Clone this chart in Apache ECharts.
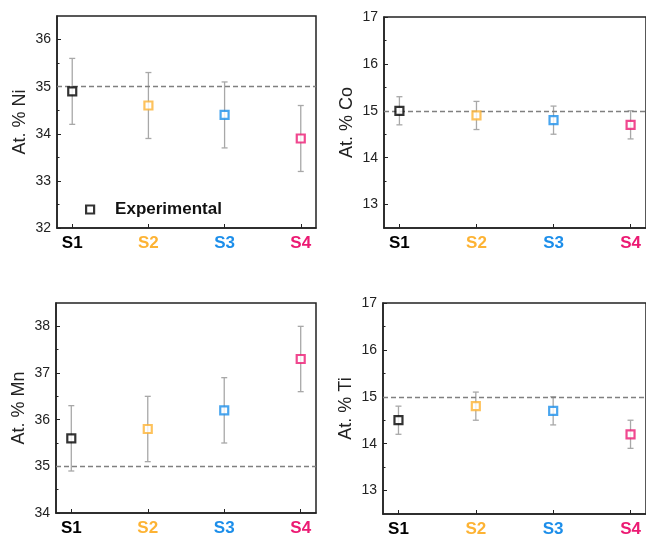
<!DOCTYPE html>
<html>
<head>
<meta charset="utf-8">
<script src="https://cdn.jsdelivr.net/npm/echarts@6/dist/echarts.min.js"></script>
<style>html,body{margin:0;padding:0;background:#fff}#c{width:646px;height:539px}</style>
</head>
<body>
<div id="c"></div>
<script>
// ---- data ----
const categories = ['S1', 'S2', 'S3', 'S4'];
const niValues = [34.9, 34.6, 34.4, 33.9];
const niErr = [0.7, 0.7, 0.7, 0.7];
const coValues = [15.0, 14.9, 14.8, 14.7];
const coErr = [0.3, 0.3, 0.3, 0.3];
const mnValues = [35.6, 35.8, 36.2, 37.3];
const mnErr = [0.7, 0.7, 0.7, 0.7];
const tiValues = [14.5, 14.8, 14.7, 14.2];
const tiErr = [0.3, 0.3, 0.3, 0.3];
const nominal = [35, 15, 35, 15];
const niTicks = [32, 33, 34, 35, 36];
const coTicks = [13, 14, 15, 16, 17];
const mnTicks = [34, 35, 36, 37, 38];
const tiTicks = [13, 14, 15, 16, 17];
const niMinor = [32.5, 33.5, 34.5, 35.5];
const coMinor = [13.5, 14.5, 15.5, 16.5];
const mnMinor = [34.5, 35.5, 36.5, 37.5];
const tiMinor = [13.5, 14.5, 15.5, 16.5];
const yNames = ['At. % Ni', 'At. % Co', 'At. % Mn', 'At. % Ti'];
const yRanges = [[32, 36.5], [12.5, 17], [34, 38.5], [12.5, 17]];
const legendName = 'Experimental';

// ---- styles ----
const catColors = ['#000000', '#FDB334', '#1C8EEA', '#EC1A73'];
const FONT = 'Liberation Sans, Arial, sans-serif';
const frame = '#222';

const panels = [
  {vals: niValues, err: niErr, ticks: niTicks, minor: niMinor},
  {vals: coValues, err: coErr, ticks: coTicks, minor: coMinor},
  {vals: mnValues, err: mnErr, ticks: mnTicks, minor: mnMinor},
  {vals: tiValues, err: tiErr, ticks: tiTicks, minor: tiMinor}
];

const grids = [
  {left: 57, top: 16, width: 259, height: 212},
  {left: 384, top: 17, width: 262, height: 211},
  {left: 56, top: 303, width: 260, height: 210},
  {left: 383, top: 303, width: 263, height: 211}
];

const rich = {};
categories.forEach((c, i) => {
  rich['c' + i] = {color: catColors[i], fontWeight: 'bold', fontSize: 17, fontFamily: FONT};
});

const option = {
  animation: false,
  backgroundColor: '#fff',
  grid: grids.map(g => Object.assign({show: true, borderColor: frame, borderWidth: 1.5, backgroundColor: 'transparent'}, g)),
  xAxis: [],
  yAxis: [],
  series: [],
  legend: {
    data: [{name: legendName, icon: 'rect', itemStyle: {color: '#fff', borderColor: '#000', borderWidth: 2.2}}],
    left: 80, top: 196,
    itemWidth: 8, itemHeight: 8,
    textStyle: {fontFamily: FONT, fontSize: 17, fontWeight: 'bold', color: '#111', padding: [0, 0, 0, 16]}
  }
};

panels.forEach((p, gi) => {
  option.xAxis.push({
    type: 'value', gridIndex: gi, min: 0.8, max: 4.2,
    splitLine: {show: false},
    axisLine: {show: true, onZero: false, lineStyle: {color: frame, width: 1.5}},
    axisTick: {show: true, inside: true, length: 4, customValues: categories.map((c, i) => i + 1), lineStyle: {color: frame, width: 1}},
    axisLabel: {
      customValues: categories.map((c, i) => i + 1), margin: 7,
      formatter: v => {
        const i = Math.round(v) - 1;
        return '{c' + i + '|' + categories[i] + '}';
      },
      rich: rich
    }
  });
  option.yAxis.push({
    type: 'value', gridIndex: gi, position: 'left', min: yRanges[gi][0], max: yRanges[gi][1],
    name: yNames[gi], nameLocation: 'middle', nameGap: 28,
    nameTextStyle: {fontFamily: FONT, fontSize: 18, color: '#222'},
    splitLine: {show: false},
    axisLine: {show: true, lineStyle: {color: frame, width: 1.5}},
    axisTick: {show: true, inside: true, length: 4, customValues: p.ticks, lineStyle: {color: frame, width: 1}},
    axisLabel: {customValues: p.ticks, margin: 6, fontFamily: FONT, fontSize: 14, color: '#222'}
  });
  // minor tick axis
  option.yAxis.push({
    type: 'value', gridIndex: gi, position: 'left', offset: 0, min: yRanges[gi][0], max: yRanges[gi][1],
    splitLine: {show: false},
    axisLine: {show: false},
    axisTick: {show: true, inside: true, length: 2.5, customValues: p.minor, lineStyle: {color: frame, width: 1}},
    axisLabel: {show: false}
  });
  const yIdx = gi * 2;
  // error bars
  option.series.push({
    type: 'custom', xAxisIndex: gi, yAxisIndex: yIdx, z: 2,
    data: p.vals.map((v, i) => [i + 1, v - p.err[i], v + p.err[i]]),
    renderItem: (params, api) => {
      const lo = api.coord([api.value(0), api.value(1)]);
      const hi = api.coord([api.value(0), api.value(2)]);
      const hw = 3;
      const st = {stroke: '#a8a8a8', lineWidth: 1.3};
      return {type: 'group', children: [
        {type: 'line', shape: {x1: lo[0], y1: lo[1], x2: hi[0], y2: hi[1]}, style: st},
        {type: 'line', shape: {x1: lo[0] - hw, y1: lo[1], x2: lo[0] + hw, y2: lo[1]}, style: st},
        {type: 'line', shape: {x1: hi[0] - hw, y1: hi[1], x2: hi[0] + hw, y2: hi[1]}, style: st}
      ]};
    },
    silent: true
  });
  // points
  option.series.push({
    type: 'scatter', xAxisIndex: gi, yAxisIndex: yIdx, z: 5,
    name: gi === 0 ? legendName : 'p' + gi,
    symbol: 'rect', symbolSize: 8,
    data: p.vals.map((v, i) => ({value: [i + 1, v], itemStyle: {color: '#fff', borderColor: catColors[i], borderWidth: 2.2}})),
    itemStyle: {color: '#fff', borderColor: '#000', borderWidth: 2.2},
    markLine: {
      silent: true, symbol: 'none', label: {show: false},
      lineStyle: {color: '#808080', type: [5, 3], width: 1.3},
      data: [{yAxis: nominal[gi]}]
    }
  });
});

const chart = echarts.init(document.getElementById('c'), null, {renderer: 'canvas'});
chart.setOption(option);
</script>
</body>
</html>
